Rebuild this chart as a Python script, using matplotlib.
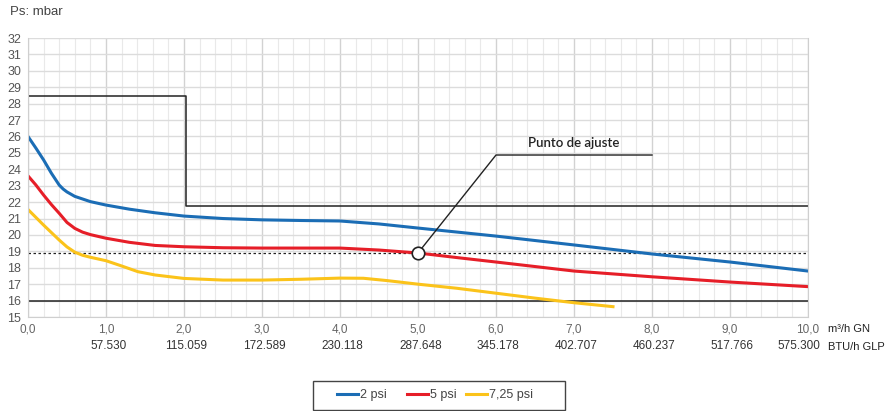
import matplotlib.pyplot as plt
from matplotlib.patches import Rectangle
from matplotlib.ticker import MultipleLocator

plt.rcParams['font.family'] = ['Liberation Sans', 'DejaVu Sans']

# -----------------------------
# DATA
# -----------------------------
x_2psi = [0, 0.1, 0.2, 0.3, 0.4, 0.45, 0.5, 0.6, 0.8, 1.0, 1.3, 1.63, 2.0, 2.5, 3.0, 3.5, 4.0,
          4.5, 5, 6, 7, 8, 9, 10]
y_2psi = [26.0, 25.3, 24.57, 23.76, 23.04, 22.8, 22.62, 22.35, 22.03, 21.82, 21.57, 21.35, 21.15,
          21.0, 20.92, 20.88, 20.85, 20.67, 20.42, 19.93, 19.39, 18.84, 18.35, 17.8]

x_5psi = [0, 0.1, 0.2, 0.3, 0.4, 0.5, 0.6, 0.7, 0.8, 1.0, 1.3, 1.63, 2.0, 2.5, 3.0, 3.5, 4.0,
          4.5, 5, 5.5, 6, 7, 8, 9, 10]
y_5psi = [23.6, 23.05, 22.43, 21.85, 21.32, 20.76, 20.4, 20.17, 20.02, 19.8, 19.55, 19.36, 19.28,
          19.22, 19.2, 19.2, 19.2, 19.08, 18.9, 18.62, 18.35, 17.8, 17.45, 17.13, 16.85]

x_725psi = [0, 0.2, 0.4, 0.5, 0.6, 0.7, 0.8, 1.0, 1.2, 1.41, 1.63, 2.0, 2.5, 3.0, 3.5, 4.0, 4.3,
            4.6, 5, 5.5, 6, 6.5, 7, 7.5]
y_725psi = [21.55, 20.6, 19.69, 19.27, 18.95, 18.76, 18.64, 18.43, 18.11, 17.76, 17.56, 17.35,
            17.25, 17.25, 17.3, 17.37, 17.36, 17.22, 17.0, 16.75, 16.45, 16.15, 15.87, 15.63]

# limit lines (mbar)
upper_x = [0, 2.02, 2.02, 10]
upper_y = [28.45, 28.45, 21.75, 21.75]
lower_limit = 16.0
setpoint_x = 5.0
setpoint_y = 18.9

gn_ticks = [0, 1, 2, 3, 4, 5, 6, 7, 8, 9, 10]
gn_labels = ["0,0", "1,0", "2,0", "3,0", "4,0", "5,0", "6,0", "7,0", "8,0", "9,0", "10,0"]
btu_labels = ["", "57.530", "115.059", "172.589", "230.118", "287.648", "345.178",
              "402.707", "460.237", "517.766", "575.300"]

# -----------------------------
# PLOT
# -----------------------------
fig = plt.figure(figsize=(8.86, 4.11), dpi=100)
ax = fig.add_axes([28 / 886, 1 - 317 / 411, 780 / 886, 279 / 411])

ax.set_xlim(0, 10)
ax.set_ylim(15, 32)
ax.set_yticks(range(15, 33))
ax.xaxis.set_minor_locator(MultipleLocator(0.2))

ax.grid(which='minor', axis='x', color='#e9e9e9', lw=0.8)
ax.grid(which='major', axis='x', color='#d2d2d2', lw=1.0)
ax.grid(which='major', axis='y', color='#dcdcdc', lw=1.0)
ax.set_axisbelow(True)
for s in ax.spines.values():
    s.set_color('#cfcfcf')
ax.spines['top'].set_visible(False)

ax.set_xticks(gn_ticks)
ax.set_xticklabels(gn_labels)
ax.tick_params(axis='x', which='both', length=0, pad=5, labelsize=8.5, labelcolor='#666666')
ax.tick_params(axis='y', length=0, pad=5, labelsize=9, labelcolor='#555555')

# second row of x labels (BTU/h)
for xv, lab in zip(gn_ticks, btu_labels):
    if xv == gn_ticks[-1]:
        ax.text(xv + 0.16, -0.105, lab, transform=ax.get_xaxis_transform(), ha='right',
                va='center', fontsize=8.5, color='#333333')
    else:
        ax.text(xv + 0.03, -0.105, lab, transform=ax.get_xaxis_transform(), ha='center',
                va='center', fontsize=8.5, color='#333333')

# limit lines
ax.plot(upper_x, upper_y, color='#222222', lw=1.1)
ax.axhline(lower_limit, color='#222222', lw=1.1)
ax.axhline(setpoint_y, color='#222222', lw=0.9, ls=(0, (2, 2)))

# curves
l1, = ax.plot(x_2psi, y_2psi, color='#1b6db5', lw=2.2, label='2 psi')
l2, = ax.plot(x_5psi, y_5psi, color='#e61e28', lw=2.2, label='5 psi')
l3, = ax.plot(x_725psi, y_725psi, color='#fbc31a', lw=2.2, label='7,25 psi')

# setpoint annotation
ax.plot([setpoint_x, 6.0, 8.0], [setpoint_y, 24.87, 24.87], color='#222222', lw=1.0)
ax.plot([setpoint_x], [setpoint_y], marker='o', ms=9, mfc='white', mec='#222222', mew=1.2, zorder=5)
ax.text(7.0, 25.25, "Punto de ajuste", ha='center', va='bottom', fontsize=9.5,
        family=['Lato', 'DejaVu Sans'], fontweight='semibold', color='#222222')

# axis texts
fig.text(10 / 886, 1 - 12 / 411, "Ps: mbar", fontsize=9.5, color='#444444', va='center')
fig.text(828 / 886, 1 - 329 / 411, "m³/h GN", fontsize=8, color='#222222', va='center')
fig.text(828 / 886, 1 - 347 / 411, "BTU/h GLP", fontsize=8, color='#222222', va='center')

# legend
fig.patches.append(Rectangle((313 / 886, 1 - 410 / 411), 252 / 886, 29 / 411,
                             transform=fig.transFigure, fill=False, edgecolor='#444444', lw=1.0))
for line, xpos in zip([l1, l2, l3], [337, 407, 466]):
    fig.legend(handles=[line], loc='center left', bbox_to_anchor=(xpos / 886, 1 - 395 / 411),
               frameon=False, fontsize=9, handlelength=1.68, handletextpad=0.15,
               borderpad=0, borderaxespad=0, labelcolor='#444444')

fig.savefig("out.png", dpi=100)
